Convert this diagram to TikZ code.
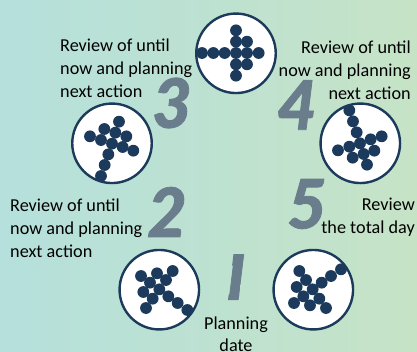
\documentclass[tikz,border=0pt]{standalone}
\usepackage{fontspec}
\setmainfont{Carlito}
\newfontfamily\numfont{Lato Black}[ItalicFont={Lato Black Italic},ItalicFeatures={FakeBold=1.2}]
\definecolor{navy}{HTML}{1B3A5C}
\definecolor{numgray}{HTML}{6A7D8C}
\definecolor{bgl}{HTML}{B5E0DC}
\definecolor{bgr}{HTML}{C6E3C6}
\tikzset{
  x=1pt,y=-1pt,
  disc/.style={circle,draw=navy,line width=2.4pt,fill=white,minimum size=79.5pt,inner sep=0pt},
  dot/.style={circle,fill=navy,minimum size=11.8pt,inner sep=0pt},
  lbl/.style={inner sep=0pt,text=black,font=\fontsize{18.2}{23}\selectfont},
  bignum/.style={inner sep=0pt,text=numgray,font=\fontsize{68}{68}\selectfont\numfont\itshape}
}
\begin{document}
\begin{tikzpicture}
\useasboundingbox (0,0) rectangle (417,351);
\shade[left color=bgl,right color=bgr] (0,0) rectangle (417,351);
\node[disc] (top) at (236,53.3) {};
\node[disc] (left) at (112,143.3) {};
\node[disc] (lowleft) at (159.3,289.7) {};
\node[disc] (lowright) at (313.3,289.7) {};
\node[disc] (right) at (360.3,143.3) {};
\foreach \x/\y in {408/91,408/125,441/125,408/159,374/159,340/159,306/159,441/159,476/159,408/193,441/193,408/227}
  \node[dot] at ({100+\x/3},{\y/3}) {};
\foreach \x/\y in {357/365,313/387,346/398,270/409,303/420,379/409,336/431,368/441,400/452,325/463,314/495,303/528}
  \node[dot] at ({\x/3},{\y/3}) {};
\foreach \x/\y in {123/288,171/280,218/273,150/308,198/300,130/336,178/328,158/356,205/349,138/384,233/369,262/390}
  \node[dot] at ({100+\x/3},{180+\y/3}) {};
\foreach \x/\y in {598/273,618/300,665/308,693/288,723/268,590/321,638/328,610/349,658/356,582/369,630/376,678/384}
  \node[dot] at ({100+\x/3},{180+\y/3}) {};
\foreach \x/\y in {238/241,249/274,260/307,302/328,335/319,270/340,238/350,313/362,281/372,204/361,248/383,291/404}
  \node[dot] at ({270+\x/3},{30+\y/3}) {};
\node[bignum] (n3) at (172,103) {3};
\node[bignum] (n4) at (297,105) {4};
\node[bignum] (n5) at (307,204) {5};
\node[bignum] (n2) at (167,212) {2};
\begin{scope}
\clip (233.5,254) -- (245.5,254) -- (238.5,300) -- (228,300) -- cycle;
\node[bignum] (n1) at (233.5,277) {1};
\end{scope}
\node[lbl,align=left,anchor=west] (t3) at (60,68) {Review of until\\now and planning\\next action};
\node[lbl,align=left,anchor=west] (t2) at (10,228) {Review of until\\now and planning\\next action};
\node[lbl,align=right,anchor=east] (t4) at (411,70) {Review of until\\now and planning\\next action};
\node[lbl,align=right,anchor=east] (t5) at (415,217.5) {Review\\the total day};
\node[lbl,align=center,font=\fontsize{18.2}{22}\selectfont] (t1) at (236,334) {Planning\\date};
\end{tikzpicture}
\end{document}
